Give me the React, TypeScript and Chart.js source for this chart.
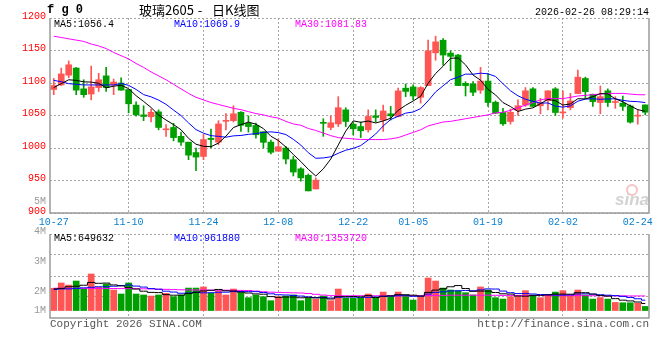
import React, { useEffect, useRef } from 'react';
import { Chart, registerables } from 'chart.js';

Chart.register(...registerables);

// ---------- data ----------
const dates = ['10-27','10-28','10-29','10-30','10-31','11-03','11-04','11-05','11-06','11-07','11-10','11-11','11-12','11-13','11-14','11-17','11-18','11-19','11-20','11-21','11-24','11-25','11-26','11-27','11-28','12-01','12-02','12-03','12-04','12-05','12-08','12-09','12-10','12-11','12-12','12-15','12-16','12-17','12-18','12-19','12-22','12-23','12-24','12-25','12-26','12-29','12-30','12-31','01-05','01-06','01-07','01-08','01-09','01-12','01-13','01-14','01-15','01-16','01-19','01-20','01-21','01-22','01-23','01-26','01-27','01-28','01-29','01-30','02-02','02-03','02-04','02-05','02-06','02-09','02-10','02-11','02-12','02-13','02-24','02-25'];

const openP = [1090,1097,1112,1123,1091,1083,1093,1111,1097,1100, 1090,1066,1051,1048,1055.6,1028,1031.6,1018,1009,993, 987,1015,1009,1041,1042,1055,1038,1034.7,1025,1009, 995,1000,982,968,958,937,1038.5,1031.6,1037,1058.7, 1036.7,1033,1028,1049.5,1043,1052.6,1048.5,1092,1094,1078, 1096,1146.4,1165.8,1146,1143,1099.5,1098.5,1089,1103,1070.4, 1054.6,1040.8,1058,1066,1091,1065,1073,1091,1054,1062, 1083.7,1107,1082.7,1070,1088,1070,1069,1064.8,1049,1066.3];
const highP = [1107,1123,1134,1124,1105,1126,1115,1124,1106,1108, 1090,1071,1065,1060,1058.7,1036,1038,1024.5,1009,1000, 1021,1029,1042,1053,1065,1056,1049.5,1038.3,1025,1012, 1014,1002.6,987,970,960,954,1045,1049.5,1079,1062, 1040,1040,1058.7,1058.7,1066,1064,1092,1098.5,1097,1094.4, 1166,1172,1168.4,1149.5,1144,1102,1102,1124,1115,1072.4, 1061,1060,1074,1093,1093,1076.5,1088,1093,1088,1084, 1120,1109,1083,1095.4,1091,1079,1080,1066.3,1058.7,1066.3];
const lowP = [1082,1096,1108,1082,1078,1074,1087,1087,1082,1089, 1054,1049,1042,1040,1028,1018,1011,1004,982,965, 982,1000,1005,1028,1040,1025.5,1024.5,1015.3,1000,991, 995,975.5,957,949,934,937,1018,1028,1033,1033, 1020,1016,1024.5,1040,1025.5,1043,1048,1079,1074,1069, 1096,1135,1127.6,1119,1096,1080,1080.6,1084,1064,1053, 1034.7,1036.7,1050,1064,1064,1052.6,1058.7,1050,1046,1058.7, 1083.7,1076.5,1063.8,1052.6,1063.8,1061,1057.7,1038.3,1036.7,1051];
const closeP = [1096,1114,1128,1089,1082,1094,1105,1093,1101.5,1089, 1068,1051,1048.5,1055,1031.6,1029,1016,1009,989,986, 1013,1013,1037,1042,1052.6,1035,1033,1020.4,1008.7,993.4, 1002,983,963,954,934,950.5,1038,1038.8,1062,1040.8, 1029.6,1026.5,1048.5,1047,1057,1049.5,1087.8,1087,1080,1093, 1149.5,1163.3,1143,1141,1096,1096,1085.7,1103,1070,1053.6, 1037.2,1055,1065,1088,1064,1069,1088,1054.6,1055,1072.4, 1109,1086.7,1071.4,1079,1070,1071,1064,1039.8,1050,1055];

const ma5 = [1093,1099,1105,1104,1101.8,1101.4,1099.6,1092.6,1095.1,1096.5, 1091.3,1080.5,1071.6,1062.3,1050.8,1043,1036,1028.1,1014.9,1005.8, 1002.6,1002,1007.6,1018.2,1031.5,1035.9,1039.9,1036.6,1029.9,1018.1, 1011.5,1001.5,990,979.1,967.2,956.9,967.9,983.1,1004.7,1026, 1041.8,1039.5,1041.5,1038.5,1041.7,1045.7,1058,1065.7,1072.3,1079.5, 1099.5,1114.6,1125.8,1138,1138.6,1127.9,1112.3,1104.3,1090.1,1081.7, 1069.9,1063.8,1056.2,1059.8,1061.8,1068.2,1074.8,1072.7,1066.1,1067.8, 1075.8,1075.5,1078.9,1083.7,1083.2,1075.6,1071.1,1064.8,1059,1056.4];
const ma10 = [1104,1102,1099,1098,1097,1097,1097,1097,1097,1099.2, 1096.4,1090.1,1082.1,1078.7,1073.7,1067.2,1058.3,1049.9,1038.6,1028.3, 1022.8,1019,1017.9,1016.6,1018.7,1019.3,1021,1022.1,1024.1,1024.8, 1023.7,1020.7,1013.3,1004.5,992.7,984.2,984.7,986.5,991.9,996.6, 999.4,1003.7,1012.3,1021.6,1033.9,1043.8,1048.8,1053.6,1055.4,1060.6, 1072.6,1086.3,1095.7,1105.1,1109,1113.7,1113.5,1115.1,1114.1,1110.1, 1098.9,1088.1,1080.3,1075,1071.8,1069.1,1069.3,1064.4,1062.9,1064.8, 1072,1075.2,1075.8,1074.9,1075.5,1075.7,1073.3,1071.8,1071.3,1069.9];
const ma30 = [1172,1170,1168,1166,1164,1160,1157,1153,1147,1142, 1137,1130,1124,1117,1111,1105,1098,1091,1084,1078, 1074,1070,1067,1064,1061,1059,1056,1053,1051,1048, 1046,1041,1037,1035,1030,1027,1023,1019,1016,1015, 1014,1013,1013,1013,1013,1014,1016,1020,1024,1028, 1034,1037,1040,1041,1043,1045,1047,1049,1051,1054, 1055,1058,1062,1066,1070,1074,1076,1076,1076,1078, 1080,1081,1082,1083,1084,1084,1084,1083,1082,1081.83];

// volume in millions (M)
const volumeM = [2.06,2.55,2.36,2.73,1.99,3.38,2.15,2.45,1.9,1.53, 2.55,1.53,1.44,1.34,1.44,1.59,1.28,1.44,2.08,2.08, 2.18,1.59,1.84,1.44,1.99,1.65,1.19,1.44,1.28,0.91, 1.28,1.34,1.44,0.91,1.13,1.04,1.34,0.91,1.99,1.13, 1.13,1.13,1.53,1.13,1.71,1.28,1.71,1.44,0.97,1.28, 3.01,2.73,2.08,1.9,1.84,1.65,1.44,2.18,1.9,1.19, 1.06,1.28,1.28,1.84,1.44,1.19,1.44,1.71,1.84,1.38, 1.9,1.44,1.06,1.2,1.06,0.75,0.72,0.72,0.68,0.38];
const volMa5 = [2.0,2.05,2.2,2.25,2.34,2.6,2.52,2.54,2.37,2.28, 2.12,1.99,1.79,1.68,1.66,1.47,1.42,1.42,1.57,1.69, 1.81,1.87,1.95,1.83,1.81,1.7,1.62,1.54,1.51,1.29, 1.22,1.25,1.25,1.18,1.22,1.17,1.17,1.07,1.28,1.28, 1.3,1.26,1.38,1.21,1.33,1.36,1.47,1.45,1.42,1.34, 1.68,1.89,2.01,2.2,2.31,2.04,1.78,1.8,1.8,1.67, 1.55,1.52,1.34,1.33,1.38,1.41,1.44,1.52,1.52,1.51, 1.65,1.65,1.52,1.4,1.33,1.1,0.96,0.89,0.79,0.65];
const volMa10 = [1.95,2.0,2.0,2.05,2.1,2.15,2.2,2.2,2.25,2.31, 2.36,2.26,2.17,2.03,1.97,1.79,1.71,1.6,1.62,1.68, 1.64,1.65,1.69,1.7,1.75,1.76,1.75,1.75,1.67,1.55, 1.46,1.44,1.4,1.34,1.26,1.2,1.21,1.16,1.23,1.25, 1.24,1.22,1.22,1.25,1.3,1.33,1.37,1.42,1.32,1.33, 1.52,1.68,1.73,1.81,1.82,1.86,1.83,1.91,2.0,1.99, 1.8,1.65,1.57,1.57,1.53,1.48,1.48,1.43,1.43,1.45, 1.53,1.55,1.52,1.46,1.42,1.38,1.31,1.21,1.09,0.96];
const volMa30 = [2.06,2.06,2.06,2.06,2.05,2.05,2.05,2.04,2.04,2.03, 2.03,2.02,2.01,2.0,1.98,1.96,1.94,1.92,1.91,1.9, 1.9,1.89,1.88,1.88,1.87,1.86,1.85,1.8,1.74,1.7, 1.68,1.66,1.64,1.62,1.58,1.5,1.43,1.38,1.37,1.37, 1.37,1.37,1.37,1.37,1.37,1.37,1.36,1.36,1.36,1.37, 1.38,1.4,1.41,1.42,1.42,1.42,1.42,1.42,1.42,1.41, 1.4,1.4,1.39,1.39,1.39,1.39,1.38,1.38,1.38,1.38, 1.38,1.37,1.37,1.37,1.36,1.36,1.36,1.35,1.35,1.35];

const tickDates = ['10-27','11-10','11-24','12-08','12-22','01-05','01-19','02-02','02-24'];
const priceMin = 900;
const priceMax = 1200;
const priceStep = 50;
const volMinM = -0.69;
const volMaxM = 7.08;
const volGridM = [1.34, 3.19, 5.14, 7.08];
const volAxisLabels = [['5M', 201, 'main'], ['4M', 231, 'vol'], ['3M', 261, 'vol'], ['2M', 291, 'vol'], ['1M', 310, 'vol']];
const mainLegend = [['MA5:1056.4', '#000000'], ['MA10:1069.9', '#0000ff'], ['MA30:1081.83', '#ff00ff']];
const volLegend = [['MA5:649632', '#000000'], ['MA10:961880', '#0000ff'], ['MA30:1353720', '#ff00ff']];
const symbolText = 'f g 0';
const titleParts = ['玻璃2605', '-', '日K线图'];
const timeText = '2026-02-26 08:29:14';
const copyrightText = 'Copyright 2026 SINA.COM';
const urlText = 'http://finance.sina.com.cn';

// ---------- styles ----------
const RED = '#ff5555';
const GREEN = '#009f00';
const GRID = '#a6a6a6';
const FRAME = '#9a9a9a';
const MONO = '"Liberation Mono", "DejaVu Sans Mono", monospace';
const LEGEND_X = [54, 174, 295];
const VOL_TOP = 226;

function drawFrame(ctx: CanvasRenderingContext2D, a: any) {
  ctx.save();
  ctx.strokeStyle = FRAME;
  ctx.lineWidth = 1.5;
  ctx.beginPath();
  ctx.moveTo(a.left, a.top);
  ctx.lineTo(a.left, a.bottom);
  ctx.lineTo(a.right, a.bottom);
  ctx.lineTo(a.right, a.top);
  ctx.stroke();
  ctx.restore();
}

const mainDecor = {
  id: 'mainDecor',
  afterDraw(chart: any) {
    const { ctx, chartArea } = chart;
    drawFrame(ctx, chartArea);
    ctx.save();
    ctx.textBaseline = 'middle';
    ctx.fillStyle = '#000';
    ctx.textAlign = 'left';
    ctx.font = `bold 12px ${MONO}`;
    ctx.fillText(symbolText, 47, 10);
    ctx.font = '13px "Noto Sans CJK SC", sans-serif';
    ctx.textAlign = 'left';
    ctx.fillText(titleParts[0], 139, 10);
    ctx.textAlign = 'center';
    ctx.fillText(titleParts[1], 200, 10);
    ctx.textAlign = 'left';
    ctx.fillText(titleParts[2], 212, 10);
    ctx.textAlign = 'right';
    ctx.font = `10px ${MONO}`;
    ctx.fillText(timeText, 649, 12);
    ctx.textAlign = 'left';
    mainLegend.forEach(([t, c], i) => {
      ctx.fillStyle = c;
      ctx.fillText(t, LEGEND_X[i], 24);
    });
    ctx.fillStyle = '#999';
    ctx.textAlign = 'right';
    volAxisLabels.filter((l) => l[2] === 'main').forEach((l) => ctx.fillText(l[0] as string, 46, l[1] as number));
    // sina watermark
    ctx.strokeStyle = '#f2c4c4';
    ctx.lineWidth = 2;
    ctx.beginPath();
    ctx.arc(632, 190, 5, 0, Math.PI * 2);
    ctx.stroke();
    ctx.fillStyle = '#d2d2d2';
    ctx.font = 'italic bold 17px "Liberation Sans", sans-serif';
    ctx.fillText('sina', 649, 200);
    ctx.restore();
  },
};

const volDecor = {
  id: 'volDecor',
  afterDraw(chart: any) {
    const { ctx, chartArea } = chart;
    drawFrame(ctx, chartArea);
    ctx.save();
    ctx.textBaseline = 'middle';
    ctx.font = `10px ${MONO}`;
    ctx.fillStyle = '#999';
    ctx.textAlign = 'right';
    volAxisLabels.filter((l) => l[2] === 'vol').forEach((l) => ctx.fillText(l[0] as string, 46, (l[1] as number) - VOL_TOP));
    ctx.textAlign = 'left';
    volLegend.forEach(([t, c], i) => {
      ctx.fillStyle = c;
      ctx.fillText(t, LEGEND_X[i], 238 - VOL_TOP);
    });
    ctx.fillStyle = '#555';
    ctx.font = `11px ${MONO}`;
    ctx.fillText(copyrightText, 50, 324 - VOL_TOP);
    ctx.textAlign = 'right';
    ctx.fillText(urlText, 649, 324 - VOL_TOP);
    ctx.restore();
  },
};

export default function App() {
  const mainRef = useRef<HTMLCanvasElement>(null);
  const volRef = useRef<HTMLCanvasElement>(null);

  useEffect(() => {
    const colors = closeP.map((c, i) => (c >= openP[i] ? RED : GREEN));
    const tickIdx = tickDates.map((d) => dates.indexOf(d));
    const hidden = new Set([tickIdx[0], tickIdx[tickIdx.length - 1]]);
    const gridColor = (c: any) => (c.tick && hidden.has(c.tick.value) ? 'rgba(0,0,0,0)' : GRID);
    const line = (data: number[], color: string, stepped: any = false) => ({
      type: 'line' as const,
      data,
      borderColor: color,
      borderWidth: 1,
      pointRadius: 0,
      tension: 0,
      stepped,
      order: 0,
    });

    const main = new Chart(mainRef.current as HTMLCanvasElement, {
      type: 'bar',
      data: {
        labels: dates,
        datasets: [
          line(ma5, '#000000'),
          line(ma10, '#0000ff'),
          line(ma30, '#ff00ff'),
          {
            type: 'bar',
            data: openP.map((o, i) => [o, closeP[i]]),
            backgroundColor: colors,
            barThickness: 6,
            grouped: false,
            minBarLength: 1,
            order: 1,
          } as any,
          {
            type: 'bar',
            data: lowP.map((l, i) => [l, highP[i]]),
            backgroundColor: colors,
            barThickness: 1,
            grouped: false,
            order: 2,
          } as any,
        ],
      },
      options: {
        responsive: false,
        animation: false,
        devicePixelRatio: 1,
        events: [],
        layout: { padding: { left: 0, right: 11, top: 18, bottom: 0 } },
        plugins: { legend: { display: false }, tooltip: { enabled: false } },
        scales: {
          x: {
            type: 'category',
            offset: true,
            grid: { color: gridColor, offset: false, drawTicks: false },
            border: { display: false, dash: [2, 2] },
            ticks: { autoSkip: false, maxRotation: 0, minRotation: 0, color: '#0a7fd0', font: { family: MONO, size: 10 }, padding: 3 },
            afterBuildTicks: (s: any) => { s.ticks = tickIdx.map((v) => ({ value: v })); },
            afterFit: (s: any) => { s.height = 19; },
          },
          y: {
            min: priceMin,
            max: priceMax,
            ticks: {
              stepSize: priceStep,
              color: '#ff0000',
              font: { family: MONO, size: 10 },
              padding: 4,
              labelOffset: -2,
              callback: (v: any) => String(v),
            },
            grid: { color: GRID, drawTicks: false },
            border: { display: false, dash: [2, 2] },
            afterFit: (s: any) => { s.width = 50; },
          },
        },
      } as any,
      plugins: [mainDecor],
    });

    const vol = new Chart(volRef.current as HTMLCanvasElement, {
      type: 'bar',
      data: {
        labels: dates,
        datasets: [
          line(volMa5, '#000000', 'middle'),
          line(volMa10, '#0000ff', 'middle'),
          line(volMa30, '#ff00ff', 'middle'),
          {
            type: 'bar',
            data: volumeM,
            backgroundColor: colors,
            barThickness: 6,
            order: 1,
          } as any,
        ],
      },
      options: {
        responsive: false,
        animation: false,
        devicePixelRatio: 1,
        events: [],
        layout: { padding: { left: 0, right: 11, top: 8, bottom: 42 } },
        plugins: { legend: { display: false }, tooltip: { enabled: false } },
        scales: {
          x: {
            type: 'category',
            offset: true,
            grid: { color: gridColor, offset: false, drawTicks: false },
            border: { display: false, dash: [2, 2] },
            ticks: { display: false, autoSkip: false },
            afterBuildTicks: (s: any) => { s.ticks = tickIdx.map((v) => ({ value: v })); },
            afterFit: (s: any) => { s.height = 0; },
          },
          y: {
            min: volMinM,
            max: volMaxM,
            ticks: { display: false },
            grid: { color: GRID, drawTicks: false },
            border: { display: false, dash: [2, 2] },
            afterBuildTicks: (s: any) => { s.ticks = volGridM.map((v) => ({ value: v })); },
            afterFit: (s: any) => { s.width = 50; },
          },
        },
      } as any,
      plugins: [volDecor],
    });

    return () => {
      main.destroy();
      vol.destroy();
    };
  }, []);

  return (
    <div style={{ position: 'fixed', left: 0, top: 0, width: 660, height: 360, background: '#ffffff' }}>
      <canvas ref={mainRef} width={660} height={232} style={{ position: 'absolute', left: 0, top: 0 }} />
      <canvas ref={volRef} width={660} height={134} style={{ position: 'absolute', left: 0, top: VOL_TOP }} />
    </div>
  );
}
